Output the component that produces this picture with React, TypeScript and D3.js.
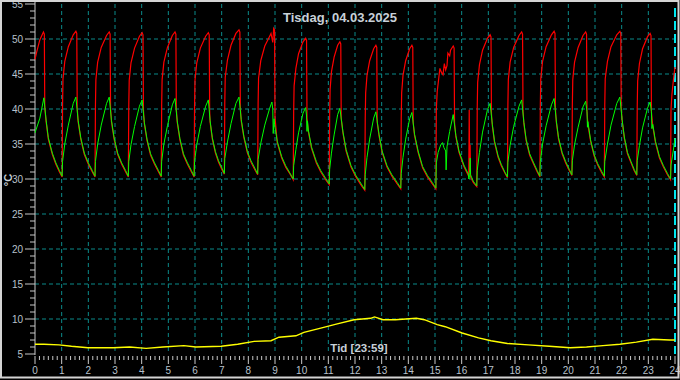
import React from "react";
import * as d3 from "d3";

// time in minutes since midnight, value in °C
const supplyTemp: [number, number][] = [
  [0,47.1],[4,48.2],[11,49.9],[19,51.0],[21,50.7],[22,40.2],[25,38.2],[30,35.7],[39,33.5],[47,32.1],[55,31.0],[61,30.3],
  [62,40.6],[63,44.3],[67,46.8],[75,48.9],[86,50.6],[92,51.1],[94,50.8],[95,40.2],[97,38.2],[103,35.7],[111,33.5],[120,32.1],[129,31.0],[135,30.3],
  [136,40.5],[137,44.2],[141,46.7],[149,48.8],[161,50.5],[167,51.0],[169,50.7],[170,40.2],[172,38.2],[178,35.7],[186,33.5],[195,32.1],[204,31.0],[210,30.3],
  [211,40.4],[212,44.1],[216,46.6],[224,48.7],[235,50.4],[241,50.9],[243,50.6],[244,39.8],[246,37.9],[252,35.5],[260,33.4],[269,32.1],[278,31.0],[284,30.3],
  [285,40.5],[286,44.2],[290,46.7],[298,48.8],[309,50.5],[315,51.0],[317,50.7],[318,40.0],[320,38.1],[326,35.6],[334,33.4],[343,32.1],[352,31.0],[358,30.3],
  [359,40.4],[360,44.1],[364,46.6],[372,48.7],[384,50.4],[390,50.9],[392,50.6],[393,39.8],[394,38.1],[399,35.7],[406,33.7],[413,32.4],[421,31.3],[426,30.7],
  [427,40.8],[428,44.5],[433,47.0],[441,49.1],[452,50.8],[459,51.3],[461,51.0],[462,40.2],[464,38.3],[470,35.9],[478,33.7],[486,32.4],[495,31.3],[501,30.6],
  [502,40.7],[503,44.4],[508,46.9],[517,49.0],[528,50.4],[531,50.8],[535,49.5],[537,51.5],[539,51.3],[540,38.8],[545,35.2],[555,33.0],[564,31.7],[574,30.7],[581,29.9],
  [582,39.6],[583,43.3],[587,45.8],[593,47.9],[603,49.6],[609,50.1],[611,49.8],[612,38.7],[615,36.8],[622,34.4],[633,32.3],[643,31.0],[654,29.9],[662,29.2],
  [663,39.1],[664,42.8],[667,45.3],[673,47.4],[681,49.1],[686,49.6],[688,49.3],[689,38.6],[693,36.5],[700,34.0],[711,31.7],[722,30.3],[734,29.1],[742,28.4],
  [743,38.6],[744,42.3],[747,44.8],[753,46.9],[762,48.6],[767,49.1],[769,48.8],[770,38.1],[774,36.2],[781,33.8],[792,31.7],[803,30.4],[815,29.3],[823,28.6],
  [824,38.6],[825,42.3],[828,44.8],[834,46.9],[843,48.6],[848,49.1],[850,48.8],[851,38.0],[854,36.2],[862,33.8],[872,31.6],[883,30.3],[894,29.3],[902,28.6],
  [903,40.0],[905,42.5],[911,45.8],[914,45.3],[918,44.9],[921,46.5],[924,45.6],[927,46.2],[929,48.0],[933,47.6],[935,48.4],[941,49.0],[943,48.7],[944,38.0],[947,36.0],[954,33.8],[965,31.8],[975,30.5],[976,31.0],[977,39.9],[978,31.0],[979,34.9],[980,30.3],[986,29.5],[994,28.9],
  [995,40.1],[996,43.8],[1000,46.3],[1007,48.4],[1018,50.1],[1024,50.6],[1026,50.3],[1027,39.3],[1029,37.6],[1034,35.2],[1042,33.1],[1049,31.9],[1057,30.9],[1063,30.2],
  [1064,40.5],[1065,44.2],[1069,46.7],[1077,48.8],[1089,50.5],[1095,51.0],[1097,50.7],[1098,39.8],[1100,37.9],[1105,35.5],[1113,33.4],[1122,32.1],[1130,31.0],[1136,30.3],
  [1137,40.6],[1138,44.3],[1142,46.8],[1150,48.9],[1162,50.6],[1168,51.1],[1170,50.8],[1171,40.0],[1173,38.1],[1178,35.7],[1186,33.6],[1194,32.3],[1202,31.2],[1208,30.5],
  [1209,40.5],[1210,44.2],[1214,46.7],[1222,48.8],[1233,50.5],[1239,51.0],[1241,50.7],[1242,39.6],[1244,37.8],[1250,35.4],[1258,33.3],[1266,32.0],[1275,30.9],[1281,30.3],
  [1282,40.6],[1283,44.3],[1288,46.8],[1296,48.9],[1309,50.6],[1316,51.1],[1318,50.8],[1319,40.2],[1321,38.3],[1326,35.8],[1333,33.6],[1341,32.3],[1348,31.2],[1354,30.5],
  [1355,40.3],[1356,44.0],[1360,46.5],[1367,48.6],[1378,50.3],[1384,50.8],[1386,50.5],[1387,39.5],[1390,37.6],[1396,35.2],[1405,33.0],[1414,31.7],[1423,30.6],[1430,29.9],
  [1431,39.9],[1433,42.0],[1436,43.9],[1440,46.0],
];

const returnTemp: [number, number][] = [
  [0,36.6],[11,38.7],[20,41.6],[25,38.4],[30,35.9],[39,33.7],[47,32.3],[55,31.2],[61,30.4],
  [62,32.5],[67,35.0],[75,37.7],[86,40.8],[92,41.7],[97,38.4],[103,35.9],[111,33.7],[120,32.3],[129,31.2],[135,30.4],
  [136,32.5],[141,35.0],[149,37.7],[161,40.8],[167,41.7],[172,38.4],[178,35.9],[186,33.7],[195,32.3],[204,31.2],[210,30.4],
  [211,32.5],[216,34.9],[224,37.5],[235,40.4],[241,41.3],[246,38.1],[252,35.7],[260,33.6],[269,32.3],[278,31.2],[284,30.4],
  [285,32.5],[290,35.0],[298,37.6],[309,40.6],[315,41.5],[320,38.3],[326,35.8],[334,33.6],[343,32.3],[352,31.2],[358,30.4],
  [359,32.5],[364,34.9],[372,37.5],[384,40.4],[390,41.3],[394,38.3],[399,35.9],[406,33.9],[413,32.6],[421,31.5],[426,30.8],
  [427,32.9],[433,35.3],[441,37.9],[452,40.8],[459,41.7],[464,38.5],[470,36.1],[478,33.9],[486,32.6],[495,31.5],[501,30.7],
  [502,32.8],[508,35.1],[517,37.7],[528,40.1],[533,41.0],[535,40.0],[536,36.5],[538,38.6],[539,37.8],[545,35.4],[555,33.2],[564,31.9],[574,30.8],[581,30.0],
  [582,31.9],[587,34.2],[593,36.6],[603,39.4],[609,40.2],[611,39.0],[612,36.8],[613,38.3],[615,37.0],[622,34.6],[633,32.5],[643,31.2],[654,30.1],[662,29.3],
  [663,31.4],[667,33.7],[673,36.3],[681,39.2],[686,40.1],[693,36.7],[700,34.2],[711,31.9],[722,30.5],[734,29.3],[742,28.5],
  [743,30.6],[747,33.1],[753,35.7],[762,38.7],[767,39.6],[774,36.4],[781,34.0],[792,31.9],[803,30.6],[815,29.5],[823,28.7],
  [824,30.8],[828,33.1],[834,35.7],[843,38.6],[848,39.5],[854,36.4],[862,34.0],[872,31.8],[883,30.5],[894,29.5],[902,28.7],
  [903,32.3],[907,33.8],[913,34.9],[917,35.2],[920,34.5],[924,34.0],[925,31.3],[927,34.6],[933,36.8],[941,39.2],[947,36.2],[954,34.0],[965,32.0],[975,30.7],[976,30.0],[978,30.2],[979,33.0],[980,30.6],[986,29.7],[994,29.0],
  [995,31.2],[1000,33.8],[1007,36.7],[1018,39.9],[1024,40.8],[1029,37.8],[1034,35.4],[1042,33.3],[1049,32.1],[1057,31.0],[1063,30.3],
  [1064,32.4],[1069,34.8],[1077,37.5],[1089,40.4],[1095,41.3],[1100,38.1],[1105,35.7],[1113,33.6],[1122,32.3],[1130,31.2],[1136,30.4],
  [1137,32.5],[1142,35.0],[1150,37.6],[1162,40.6],[1168,41.5],[1173,38.3],[1178,35.9],[1186,33.8],[1194,32.5],[1202,31.4],[1208,30.6],
  [1209,32.6],[1214,34.9],[1222,37.4],[1233,40.3],[1239,41.1],[1242,39.6],[1243,37.4],[1244,38.2],[1250,35.6],[1258,33.5],[1266,32.2],[1275,31.1],[1281,30.4],
  [1282,32.5],[1288,35.0],[1296,37.7],[1309,40.8],[1316,41.7],[1321,38.5],[1326,36.0],[1333,33.8],[1341,32.5],[1348,31.4],[1354,30.6],
  [1355,32.6],[1360,34.8],[1367,37.3],[1378,40.1],[1384,41.0],[1387,39.6],[1388,37.2],[1390,37.8],[1396,35.4],[1405,33.2],[1414,31.9],[1423,30.8],[1430,30.0],
  [1431,32.0],[1436,34.0],[1440,35.8],
];

const outdoorTemp: [number, number][] = [
  [0,6.4],[20,6.4],[54,6.3],[82,6.1],[119,5.9],[176,5.9],[213,6.0],[250,5.8],[288,6.0],[335,6.2],[362,6.0],[419,6.1],
  [456,6.4],[493,6.8],[531,6.9],[549,7.4],[587,7.6],[605,8.1],[643,8.7],[680,9.3],[718,9.9],[755,10.1],[764,10.3],
  [783,9.9],[811,9.9],[858,10.1],[876,9.9],[905,9.2],[923,8.9],[961,8.0],[998,7.3],[1026,6.9],[1063,6.5],[1110,6.3],
  [1157,6.1],[1204,5.9],[1241,6.0],[1278,6.2],[1316,6.4],[1353,6.7],[1390,7.1],[1428,7.0],[1440,7.0],
];

const hourLabels = d3.range(0, 25);
const yMajorTicks = [5, 10, 15, 20, 25, 30, 35, 40, 45, 50, 55];
const yGridValues = [10, 15, 20, 25, 30, 35, 40, 45, 50];
const titleText = "Tisdag, 04.03.2025";
const xTitle = "Tid [23:59]";
const yTitle = "°C";

const W = 680;
const H = 380;
const FONT = "'Liberation Sans', Arial, sans-serif";
const LABEL = "#b8c2cc";
const GRID = "#0b8a8a";
const AXIS = "#c8c8c8";

export default function App() {
  const x = d3.scaleLinear().domain([0, 1440]).range([35, 675]);
  const y = d3.scaleLinear().domain([5, 55]).range([354, 4]);
  const line = d3
    .line<[number, number]>()
    .x((d) => x(d[0]))
    .y((d) => y(d[1]));

  const minorY = d3.range(5, 56);
  const minorX = d3.range(0, 1441, 10);

  return (
    <svg
      width={W}
      height={H}
      style={{ position: "absolute", left: 0, top: 0, display: "block" }}
    >
      <rect x={0} y={0} width={W} height={H} fill="#000" />
      {/* grid */}
      {yGridValues.map((v) => (
        <line key={"gy" + v} x1={x(0)} x2={x(1440)} y1={y(v)} y2={y(v)} stroke={GRID} strokeWidth={1} strokeDasharray="4,3" />
      ))}
      {hourLabels.slice(1, 24).map((h) => (
        <line key={"gx" + h} x1={x(h * 60)} x2={x(h * 60)} y1={y(55)} y2={y(5)} stroke={GRID} strokeWidth={1} strokeDasharray="4,3" />
      ))}
      {/* current time marker */}
      <line x1={x(1440)} x2={x(1440)} y1={8} y2={y(5)} stroke="#00e8f0" strokeWidth={2} strokeDasharray="9,4" />

      {/* y axis */}
      <line x1={x(0)} x2={x(0)} y1={0} y2={y(5) + 1} stroke={AXIS} strokeWidth={1} />
      {minorY.map((v) => (
        <line key={"ty" + v} x1={v % 5 === 0 ? 25 : 30} x2={x(0)} y1={y(v)} y2={y(v)} stroke={AXIS} strokeWidth={1} />
      ))}
      {yMajorTicks.map((v) => (
        <text key={"ly" + v} x={23} y={y(v) + 3.5} textAnchor="end" fontFamily={FONT} fontSize={10} fill={LABEL}>
          {v}
        </text>
      ))}

      {/* x axis ticks */}
      {minorX.map((m) => (
        <line key={"tx" + m} x1={x(m)} x2={x(m)} y1={356} y2={m % 60 === 0 ? 364 : 360} stroke={AXIS} strokeWidth={1} />
      ))}
      {hourLabels.map((h) => (
        <text key={"lx" + h} x={x(h * 60)} y={374} textAnchor="middle" fontFamily={FONT} fontSize={10} fill={LABEL}>
          {h}
        </text>
      ))}

      {/* series */}
      <path d={line(outdoorTemp) || ""} fill="none" stroke="#ffff00" strokeWidth={1.4} />
      <path d={line(supplyTemp) || ""} fill="none" stroke="#ff0000" strokeWidth={1.2} />
      <path d={line(returnTemp) || ""} fill="none" stroke="#00ff00" strokeWidth={1} />

      {/* titles */}
      <text x={340} y={22} textAnchor="middle" fontFamily={FONT} fontSize={13} fontWeight="bold" fill="#c8d0d8">
        {titleText}
      </text>
      <text x={359} y={352} textAnchor="middle" fontFamily={FONT} fontSize={11.5} fontWeight="bold" fill="#c8d0d8">
        {xTitle}
      </text>
      <text transform="translate(12,180) rotate(-90)" textAnchor="middle" fontFamily={FONT} fontSize={11} fontWeight="bold" fill="#c8d0d8">
        {yTitle}
      </text>

      {/* frame */}
      <rect x={1} y={1} width={677.5} height={376.5} fill="none" stroke="#d4d4d4" strokeWidth={2} />
    </svg>
  );
}
